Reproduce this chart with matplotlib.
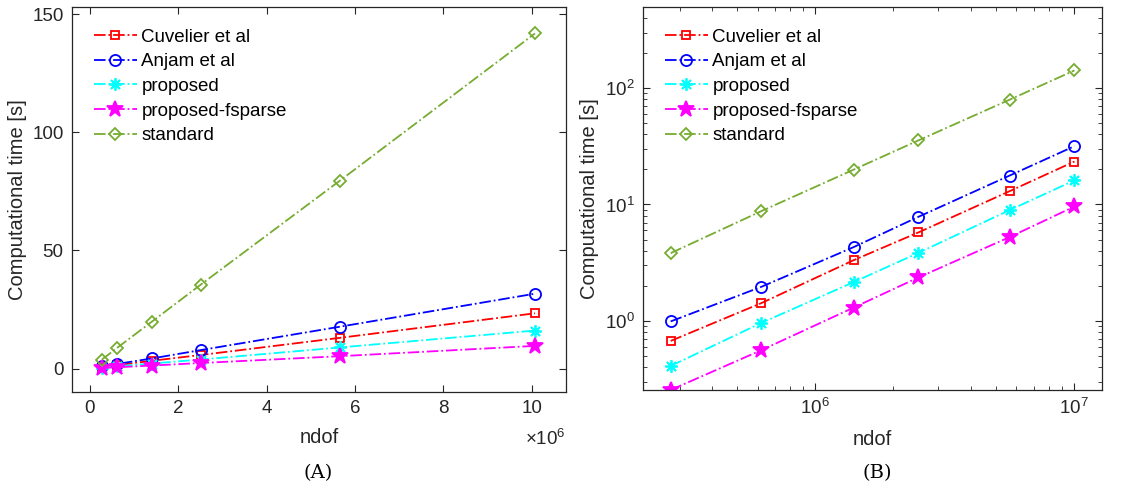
import numpy as np
import matplotlib
matplotlib.use("Agg")
import matplotlib.pyplot as plt
from matplotlib.ticker import FuncFormatter, LogLocator, NullFormatter

# data
ndof = [2.77e5, 6.2e5, 1.41e6, 2.51e6, 5.65e6, 1.007e7]
cuvelier = [0.673, 1.42, 3.32, 5.75, 13.0, 23.4]
anjam = [0.99, 1.96, 4.30, 7.83, 17.7, 31.7]
proposed = [0.41, 0.96, 2.15, 3.84, 8.94, 16.1]
fsparse = [0.255, 0.56, 1.30, 2.36, 5.24, 9.61]
standard = [3.82, 8.76, 19.9, 35.5, 79.4, 141.8]

labels = ["Cuvelier et al", "Anjam et al", "proposed", "proposed-fsparse", "standard"]
series = [cuvelier, anjam, proposed, fsparse, standard]
colors = ["#FF0000", "#0000FF", "#00FFFF", "#FF00FF", "#77AC30"]
markers = ["s", "o", (8, 2, 0), "*", "D"]
msizes = [6, 8, 9, 12, 6]
filled = [False, False, True, True, False]

plt.rcParams['font.family'] = ['Liberation Sans', 'DejaVu Sans']
plt.rcParams['mathtext.fontset'] = 'custom'
plt.rcParams['mathtext.rm'] = 'Liberation Sans'
gray = "#262626"

fig = plt.figure(figsize=(11.44, 4.9), dpi=100)
ax1 = fig.add_axes([0.0629, 0.2, 0.4318, 0.7857])
ax2 = fig.add_axes([0.5621, 0.2041, 0.4012, 0.7816])

def draw(ax):
    for y, lab, c, m, ms, f in zip(series, labels, colors, markers, msizes, filled):
        ax.plot(ndof, y, linestyle='-.', color=c, marker=m, markersize=ms, lw=1.3,
                markerfacecolor=c if f else 'none', markeredgecolor=c,
                markeredgewidth=1.3, label=lab)
    ax.tick_params(direction='in', which='both', top=True, right=True,
                   labelsize=13.5, colors=gray, length=5, pad=6)
    ax.tick_params(which='minor', length=3)
    for s in ax.spines.values():
        s.set_color(gray)
        s.set_linewidth(0.9)
    ax.set_xlabel("ndof", fontsize=14.5, color=gray, labelpad=8)
    ax.set_ylabel("Computational time [s]", fontsize=14.5, color=gray)
    ax.legend(loc='upper left', frameon=False, fontsize=13.5,
              handlelength=2.3, handletextpad=0.25, labelspacing=0.4,
              borderaxespad=0.75)

draw(ax1)
ax1.set_xlim(-0.4e6, 10.77e6)
ax1.set_ylim(-9.9, 153)
ax1.set_xticks([0, 2e6, 4e6, 6e6, 8e6, 10e6])
ax1.set_yticks([0, 50, 100, 150])
ax1.xaxis.set_major_formatter(FuncFormatter(lambda v, p: f"{v / 1e6:g}"))
ax1.text(1.0, -0.12, r"$\times 10^{6}$", transform=ax1.transAxes,
         ha='right', va='center', fontsize=13.5, color=gray)

draw(ax2)
ax2.set_xscale('log')
ax2.set_yscale('log')
ax2.set_xlim(2.166e5, 1.287e7)
ax2.set_ylim(0.255, 497)
ax2.xaxis.set_minor_locator(LogLocator(base=10, subs=np.arange(2, 10)))
ax2.yaxis.set_minor_locator(LogLocator(base=10, subs=np.arange(2, 10)))
ax2.xaxis.set_minor_formatter(NullFormatter())
ax2.yaxis.set_minor_formatter(NullFormatter())

fig.text(0.278, 0.025, "(A)", family='DejaVu Serif', fontsize=14, ha='center')
fig.text(0.767, 0.025, "(B)", family='DejaVu Serif', fontsize=14, ha='center')

fig.savefig("out.png", dpi=100)
